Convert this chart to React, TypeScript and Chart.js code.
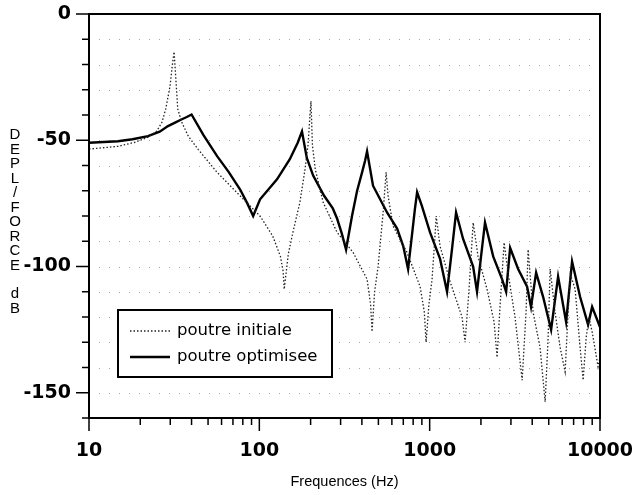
import React, { useEffect, useRef } from 'react';
import { Chart, registerables } from 'chart.js';
Chart.register(...registerables);

// ---- data ----
const freqInit = [10, 14.8, 18.6, 22.2, 25, 26.8, 28.2, 29.9, 30.8, 31.6, 33.2, 35.1, 38.3, 43.7, 56.5, 77, 101, 120, 133, 138, 140, 148, 158, 173, 185, 193, 201, 205, 213, 237, 286, 355, 429, 450, 459, 475, 498, 533, 555, 570, 610, 736, 879, 930, 953, 990, 1033, 1070, 1092, 1151, 1318, 1549, 1614, 1703, 1800, 1923, 2172, 2389, 2488, 2588, 2735, 2884, 3170, 3491, 3681, 3784, 4046, 4446, 4764, 4955, 5096, 5445, 5832, 6240, 6500, 6700, 7145, 7640, 7960, 8300, 8600, 9000, 9740, 10000];
const dbInit = [-53.5, -52.4, -50.8, -48.8, -46.4, -42.9, -37.7, -28.6, -20.6, -15, -37.7, -43, -48.4, -53.6, -62.7, -72, -80, -88, -96, -102, -109, -95, -86, -74.6, -62, -52, -34.5, -52, -61.5, -74.6, -86.5, -94.4, -105, -115, -125.8, -110, -100, -78.6, -62.7, -72, -84, -94.4, -108, -118, -130, -115, -105, -90, -80, -92, -106, -120, -130, -109, -82.6, -96, -109, -122, -136, -116, -90.5, -102.4, -120, -145, -118, -93.3, -118, -132, -153.6, -129, -101, -118, -132, -141.7, -118, -103, -109, -132, -145, -128, -120, -126, -139.7, -136];

const freqOpt = [10, 14.8, 18, 22.2, 26, 29.1, 32, 35.1, 37.5, 40, 47, 56.5, 66, 77, 85, 92, 101, 127, 151, 168, 178, 190, 207, 240, 270, 286, 305, 323, 350, 375, 400, 418, 429, 465, 562, 644, 700, 747, 795, 820, 844, 900, 1005, 1151, 1265, 1353, 1400, 1429, 1570, 1800, 1897, 2003, 2113, 2360, 2660, 2811, 2967, 3306, 3733, 3936, 4217, 4634, 5164, 5675, 6325, 6855, 7640, 8512, 8990, 10000];
const dbOpt = [-51, -50.4, -49.6, -48.4, -46.6, -44.4, -43, -41.7, -40.8, -39.8, -48, -56.3, -62.5, -69.4, -75, -80, -73.4, -65.5, -57.5, -51, -46.5, -57, -64, -72, -77, -81, -87, -93.3, -80, -70, -63, -58, -54.4, -68, -78.6, -85, -92, -101, -85, -77, -70.6, -76, -86.5, -97, -110, -93, -84, -78.6, -89, -100, -110, -96, -82.6, -96, -105, -110, -92.6, -101, -108, -116, -102.4, -112, -125, -104, -122, -98, -112, -123, -116, -124];

const seriesNames = ['poutre initiale', 'poutre optimisee'];
const xTickValues = [10, 20, 30, 40, 50, 60, 70, 80, 90, 100, 200, 300, 400, 500, 600, 700, 800, 900, 1000, 2000, 3000, 4000, 5000, 6000, 7000, 8000, 9000, 10000];
const xLabelValues = [10, 100, 1000, 10000];
const yLabelValues = [0, -50, -100, -150];
const yMin = -160;
const yMax = 0;
const yStep = 10;
const xTitle = 'Frequences (Hz)';
const yTitle = 'DEPL/FORCE dB';

const DOT_DASH = [1.5, 2];

const framePlugin = {
  id: 'frame',
  beforeDatasetsDraw(chart: any) {
    const { ctx, chartArea: a, scales } = chart;
    const y = scales.y;
    ctx.save();
    ctx.strokeStyle = '#a8a8a8';
    ctx.lineWidth = 1;
    ctx.setLineDash([1, 9]);
    for (let v = yMin + yStep; v < yMax; v += yStep) {
      const py = Math.round(y.getPixelForValue(v)) + 0.5;
      ctx.beginPath();
      ctx.moveTo(a.left, py);
      ctx.lineTo(a.right, py);
      ctx.stroke();
    }
    ctx.restore();
  },
  afterDatasetsDraw(chart: any) {
    const { ctx, chartArea: a, scales } = chart;
    const x = scales.x;
    const y = scales.y;
    ctx.save();
    ctx.setLineDash([]);
    ctx.strokeStyle = '#000';
    ctx.lineWidth = 2;
    ctx.strokeRect(a.left, a.top, a.right - a.left, a.bottom - a.top);
    ctx.lineWidth = 1.5;
    for (let v = yMax; v >= yMin; v -= yStep) {
      const py = y.getPixelForValue(v);
      const len = v % 50 === 0 ? 13 : 7;
      ctx.beginPath();
      ctx.moveTo(a.left - len, py);
      ctx.lineTo(a.left, py);
      ctx.stroke();
    }
    for (const v of xTickValues) {
      const px = x.getPixelForValue(v);
      const len = xLabelValues.includes(v) ? 13 : 7;
      ctx.beginPath();
      ctx.moveTo(px, a.bottom);
      ctx.lineTo(px, a.bottom + len);
      ctx.stroke();
    }

    // legend
    const lx = 118, ly = 310, lw = 214, lh = 67;
    ctx.fillStyle = '#fff';
    ctx.fillRect(lx, ly, lw, lh);
    ctx.lineWidth = 2;
    ctx.strokeRect(lx, ly, lw, lh);
    const rows = [ly + 21, ly + 47];
    chart.data.datasets.forEach((ds: any, i: number) => {
      ctx.save();
      ctx.strokeStyle = ds.borderColor;
      ctx.lineWidth = ds.borderWidth;
      ctx.setLineDash(ds.borderDash || []);
      ctx.beginPath();
      ctx.moveTo(lx + 12, rows[i]);
      ctx.lineTo(lx + 52, rows[i]);
      ctx.stroke();
      ctx.restore();
      ctx.fillStyle = '#000';
      ctx.font = '16.5px "DejaVu Sans"';
      ctx.textAlign = 'left';
      ctx.textBaseline = 'middle';
      ctx.fillText(ds.label, lx + 59, rows[i]);
    });

    // y title (stacked letters)
    ctx.fillStyle = '#000';
    ctx.font = '15px "Liberation Sans"';
    ctx.textAlign = 'center';
    ctx.textBaseline = 'middle';
    let cy = 135;
    for (const ch of yTitle) {
      if (ch === ' ') { cy += 14; continue; }
      ctx.fillText(ch, 15, cy);
      cy += 14.5;
    }
    ctx.restore();
  },
};

export default function App() {
  const ref = useRef<HTMLCanvasElement>(null);
  useEffect(() => {
    if (!ref.current) return;
    const chart = new Chart(ref.current, {
      type: 'line',
      data: {
        datasets: [
          {
            label: seriesNames[0],
            data: freqInit.map((f, i) => ({ x: f, y: dbInit[i] })),
            borderColor: '#222',
            borderWidth: 1.3,
            borderDash: DOT_DASH,
            pointRadius: 0,
            tension: 0,
            fill: false,
          },
          {
            label: seriesNames[1],
            data: freqOpt.map((f, i) => ({ x: f, y: dbOpt[i] })),
            borderColor: '#000',
            borderWidth: 2.4,
            pointRadius: 0,
            tension: 0,
            fill: false,
          },
        ],
      },
      options: {
        responsive: false,
        animation: false,
        layout: { padding: { top: 14, right: 36, left: 0, bottom: 0 } },
        plugins: { legend: { display: false }, tooltip: { enabled: false } },
        scales: {
          x: {
            type: 'logarithmic',
            min: 10,
            max: 10000,
            grid: { display: false, drawTicks: false },
            border: { display: false },
            afterBuildTicks: (s: any) => { s.ticks = xTickValues.map((v) => ({ value: v })); },
            afterFit: (s: any) => { s.height = 77; s.paddingLeft = 0; s.paddingRight = 0; },
            ticks: {
              autoSkip: false,
              maxRotation: 0,
              padding: 22,
              color: '#000',
              font: { family: 'DejaVu Sans', size: 19, weight: 'bold' },
              callback: (v: any) => (xLabelValues.includes(Number(v)) ? String(v) : ''),
            },
            title: {
              display: true,
              text: xTitle,
              color: '#000',
              font: { family: 'Liberation Sans', size: 14.5 },
              padding: { top: 0, bottom: 4 },
            },
          },
          y: {
            type: 'linear',
            min: yMin,
            max: yMax,
            grid: { display: false, drawTicks: false },
            border: { display: false },
            afterFit: (s: any) => { s.width = 89; s.paddingTop = 0; s.paddingBottom = 0; },
            ticks: {
              stepSize: yStep,
              autoSkip: false,
              padding: 18,
              color: '#000',
              font: { family: 'DejaVu Sans', size: 19, weight: 'bold' },
              callback: (v: any) => (yLabelValues.includes(Number(v)) ? String(v) : ''),
            },
          },
        },
      },
      plugins: [framePlugin],
    } as any);
    return () => chart.destroy();
  }, []);
  return (
    <div style={{ position: 'absolute', left: 0, top: 0, width: 636, height: 495, background: '#fff' }}>
      <canvas ref={ref} width={636} height={495} style={{ display: 'block' }} />
    </div>
  );
}
